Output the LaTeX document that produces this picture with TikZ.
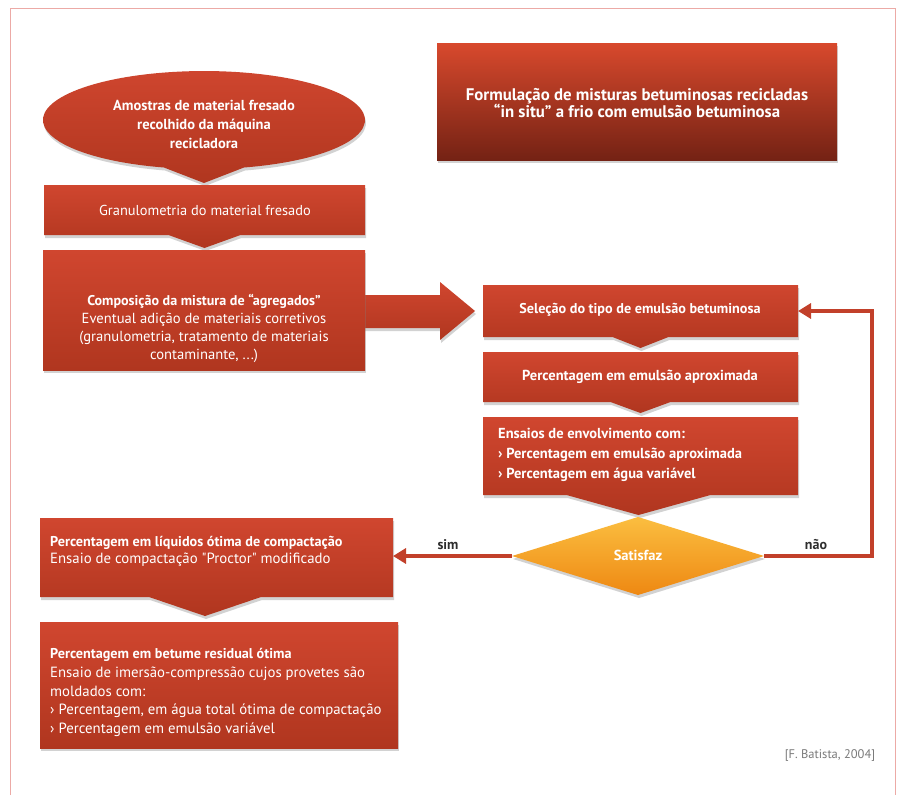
\documentclass[tikz,border=0pt]{standalone}
\usepackage{fontspec}
\setmainfont{PT Sans}
\usetikzlibrary{calc,shadows,backgrounds,arrows.meta}
\pgfdeclarelayer{bottomlayer}
\pgfsetlayers{bottomlayer,background,main}
\definecolor{boxtop}{HTML}{D0462F}
\definecolor{boxbot}{HTML}{B0361F}
\definecolor{titletop}{HTML}{D8492D}
\definecolor{titlebot}{HTML}{742214}
\definecolor{linkred}{HTML}{C2402A}
\definecolor{framecol}{HTML}{ECAAA6}
\definecolor{dtop}{HTML}{FBBE40}
\definecolor{dbot}{HTML}{EE8812}
\definecolor{labgray}{HTML}{2E2E2E}
\definecolor{citegray}{HTML}{7A7A7A}
\newcommand\ptrbox[4]{\path[redbox] (#1.north west) -- (#1.north east) -- (#1.south east) -- ($(#1.south)+(#2+#3,0)$) -- ($(#1.south)+(#2,#4)$) -- ($(#1.south)+(#2-#3,0)$) -- (#1.south west) -- cycle;}
\begin{document}
\begin{tikzpicture}[x=1pt,y=-1pt,
  shadowed/.style={drop shadow={opacity=0.35,shadow xshift=1pt,shadow yshift=-3pt}},
  redbox/.style={shadowed,top color=boxtop,bottom color=boxbot},
  titlebox/.style={shadowed,top color=titletop,bottom color=titlebot},
  dshape/.style={shadowed,top color=dtop,bottom color=dbot},
  area/.style 2 args={rectangle,inner sep=0pt,outer sep=0pt,minimum width=#1,minimum height=#2},
  txt/.style={text=white,inner sep=0pt,font=\fontsize{14.5}{18.5}\selectfont},
  ctxt/.style={txt,align=center},
  ltxt/.style={txt,align=left,anchor=west},
  link/.style={draw=linkred,line width=3.5pt,-{Triangle[length=13pt,width=15pt]}},
  lab/.style={text=labgray,font=\fontsize{14}{16}\selectfont\bfseries,inner sep=0pt}
]
\useasboundingbox (0,0) rectangle (899,795);
\begin{pgfonlayer}{bottomlayer}
\fill[white] (0,0) rectangle (899,795);
\draw[framecol,line width=0.8pt] (10,795) -- (10,8) -- (895,8) -- (895,795);
\end{pgfonlayer}

% area nodes
\node[area={400}{117}] (title) at (637,101.5) {};
\node[area={321}{50}] (gran) at (204.5,210) {};
\node[area={322}{120}] (comp) at (204,310) {};
\node[area={315}{52}] (sel) at (640.5,311) {};
\node[area={315}{50}] (pea) at (640.5,377) {};
\node[area={315}{78}] (ens) at (640.5,456) {};
\node[area={252}{78}] (sat) at (638,556) {};
\node[area={353}{79}] (liq) at (216.5,557.5) {};
\node[area={358}{126}] (bet) at (219,685) {};
\coordinate (loopx) at (872,0);

\begin{pgfonlayer}{background}
  % title
  \path[titlebox] (title.north west) rectangle (title.south east);
  % ellipse with pointer
  \path[redbox] (244,167.5) arc[start angle=-75.6,end angle=255.6,x radius=161pt,y radius=49pt] -- (204,183) -- cycle;
  \ptrbox{gran}{0}{36}{13}
  % block arrow comp -> sel
  \path[redbox] ($(comp.east)+(-2,-15)$) -- ($(sel.west)+(-43,-16)$) -- ($(sel.west)+(-43,-29)$) -- ($(sel.west)+(-8,0)$) -- ($(sel.west)+(-43,29)$) -- ($(sel.west)+(-43,17)$) -- ($(comp.east)+(-2,18)$) -- cycle;
  \path[redbox] (comp.north west) rectangle (comp.south east);
  \ptrbox{sel}{0}{28}{11}
  \ptrbox{pea}{0}{30}{11}
  \ptrbox{ens}{-2}{72}{20}
  \path[dshape] (sat.north) -- (sat.east) -- (sat.south) -- (sat.west) -- cycle;
  \ptrbox{liq}{-11.5}{56}{19}
  \path[redbox] (bet.north west) rectangle (bet.south east);
\end{pgfonlayer}

% texts
\node[ctxt,font=\fontsize{16.8}{17.5}\selectfont\bfseries] (titletxt) at (637,103) {Formulação de misturas betuminosas recicladas\\“in situ” a frio com emulsão betuminosa};
\node[ctxt,font=\fontsize{14.5}{19}\selectfont\bfseries] (amostras) at (204,124) {Amostras de material fresado\\recolhido da máquina\\recicladora};
\node[ctxt,font=\fontsize{14.4}{18}\selectfont] (grantxt) at (205,210) {Granulometria do material fresado};
\node[ctxt,font=\fontsize{14.6}{18}\selectfont] (comptxt) at (204,328) {\textbf{\fontsize{14.1}{18}\selectfont Composição da mistura de “agregados”}\\Eventual adição de materiais corretivos\\(granulometria, tratamento de materiais\\contaminante, ...)};
\node[ctxt,font=\fontsize{14.2}{18}\selectfont\bfseries] (seltxt) at (640,310) {Seleção do tipo de emulsão betuminosa};
\node[ctxt,font=\fontsize{14.5}{18}\selectfont\bfseries] (peatxt) at (640,377) {Percentagem em emulsão aproximada};
\node[ltxt,font=\fontsize{14.5}{20}\selectfont\bfseries] (enstxt) at (498,455) {Ensaios de envolvimento com:\\› Percentagem em emulsão aproximada\\› Percentagem em água variável};
\node[ctxt,font=\fontsize{14.5}{15}\selectfont\bfseries] (sattxt) at (638,555) {Satisfaz};
\node[ltxt,font=\fontsize{14.8}{17.5}\selectfont] (liqtxt) at (50,551.5) {\textbf{\fontsize{14.2}{17.5}\selectfont Percentagem em líquidos ótima de compactação}\\Ensaio de compactação \textquotedbl Proctor\textquotedbl{} modificado};
\node[ltxt,font=\fontsize{14.8}{18.7}\selectfont] (bettxt) at (50,692.5) {\textbf{\fontsize{14.2}{18.7}\selectfont Percentagem em betume residual ótima}\\Ensaio de imersão-compressão cujos provetes são\\moldados com:\\› Percentagem, em água total ótima de compactação\\› Percentagem em emulsão variável};

% connectors
\draw[link] (sat.west) -- (sat.west -| liq.east);
\draw[link] (sat.east) -- (sat.east -| loopx) |- (sel.east);
\node[lab] (sim) at (448,545) {sim};
\node[lab] (nao) at (816,545) {não};
\node[text=citegray,font=\fontsize{12.5}{14}\selectfont,inner sep=0pt] (cite) at (830,755) {[F. Batista, 2004]};
\end{tikzpicture}
\end{document}
